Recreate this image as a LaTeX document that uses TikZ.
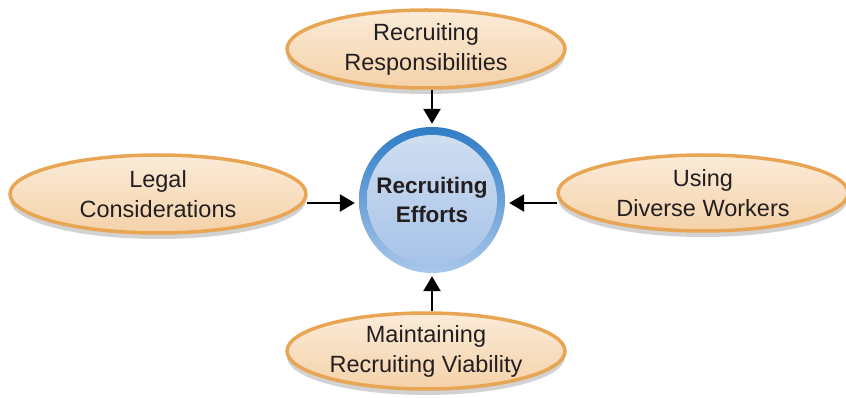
\documentclass[tikz,border=0pt]{standalone}
\usepackage{fontspec}
\setmainfont{Liberation Sans}
\usepackage{xcolor}
\usetikzlibrary{shapes.geometric,shadows,arrows.meta}

\definecolor{petalring}{HTML}{E8A655}
\definecolor{petaltop}{HTML}{FBEBD8}
\definecolor{petalbot}{HTML}{F4D2A9}
\definecolor{hubringtop}{HTML}{2F7CC6}
\definecolor{hubringbot}{HTML}{A9C7EA}
\definecolor{hubtop}{HTML}{D3DFF1}
\definecolor{hubbot}{HTML}{A3C1E7}
\definecolor{inktext}{HTML}{231F20}

\tikzset{
    petal/.style={ellipse, draw=petalring, line width=3.5pt, inner sep=0pt,
        top color=petaltop, bottom color=petalbot, text=inktext, align=center,
        font=\fontsize{23.5}{30}\selectfont,
        drop shadow={shadow xshift=0pt, shadow yshift=-6pt, fill=black!25, opacity=0.7}},
    hub/.style={circle, minimum size=146pt, inner sep=0pt,
        top color=hubringtop, bottom color=hubringbot, text=inktext, align=center,
        font=\fontsize{22.5}{29}\selectfont\bfseries,
        path picture={\shade[top color=hubtop, bottom color=hubbot]
            (path picture bounding box.center) circle (65pt);}},
    feed/.style={line width=2.4pt, -{Triangle[width=17pt,length=15pt]}}
}

\begin{document}
\begin{tikzpicture}[x=1pt, y=-1pt]
        \useasboundingbox (0,0) rectangle (846,398);

        % 1. 中心圓
        \node[hub] (eff) at (432,200) {Recruiting\\Efforts};

        % 2. 四個橢圓
        \node[petal, minimum width=278pt, minimum height=78pt] (resp)    at (426,49)  {Recruiting\\Responsibilities};
        \node[petal, minimum width=296pt, minimum height=78pt] (legal)   at (158,194) {Legal\\Considerations};
        \node[petal, minimum width=290pt, minimum height=76pt] (diverse) at (703,193) {Using\\Diverse Workers};
        \node[petal, minimum width=278pt, minimum height=76pt] (maint)   at (426,351) {Maintaining\\Recruiting Viability};

        % 3. 箭頭 (指向中心)
        \draw[feed, shorten >=3pt] (resp.south -| eff.north) -- (eff.north);
        \draw[feed, shorten >=3pt] (maint.north -| eff.south) -- (eff.south);
        \draw[feed, shorten <=-1pt, shorten >=4pt] (legal.east |- 0,203) -- (eff.west |- 0,203);
        \draw[feed, shorten <=-1pt, shorten >=4pt] (diverse.west |- 0,203) -- (eff.east |- 0,203);

    \end{tikzpicture}
\end{document}
